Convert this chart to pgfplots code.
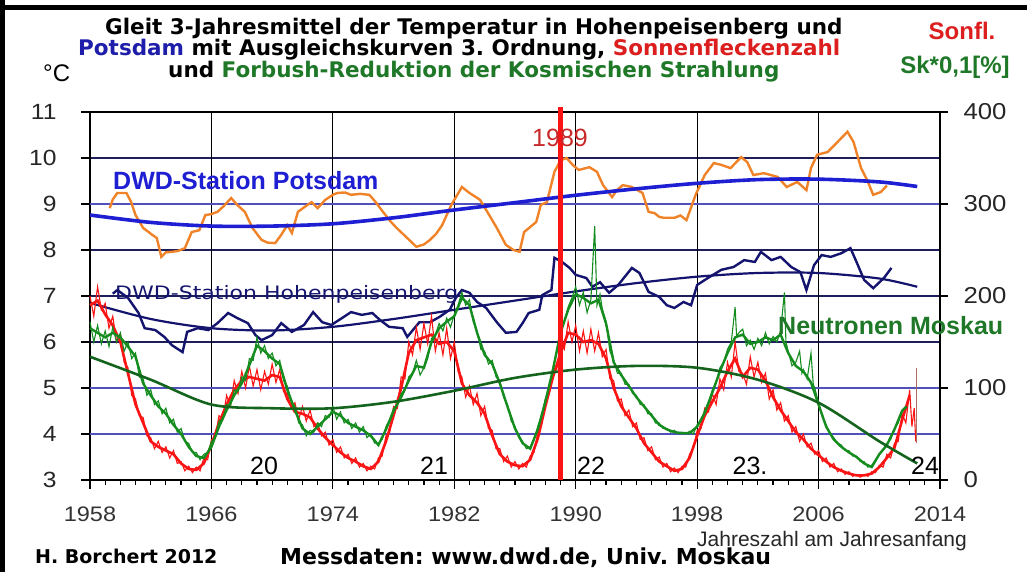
\documentclass[border=0pt]{standalone}
\usepackage{pgfplots}
\pgfplotsset{compat=1.18}
\usepackage{fontspec}
\setmainfont{Liberation Sans}
\newfontfamily\dv{DejaVu Sans}
\newcommand{\sx}[1]{\scalebox{1.12}[1]{#1}}
\definecolor{orangeC}{RGB}{240,130,40}
\definecolor{blueFit}{RGB}{30,30,210}
\definecolor{navyC}{RGB}{20,20,110}
\definecolor{redC}{RGB}{250,20,20}
\definecolor{greenC}{RGB}{20,140,30}
\definecolor{greenFit}{RGB}{20,100,30}
\definecolor{tblue}{RGB}{30,30,170}
\definecolor{tred}{RGB}{220,30,30}
\definecolor{tgreen}{RGB}{30,120,40}
\definecolor{gridnavy}{RGB}{30,30,90}
\definecolor{gridblue}{RGB}{80,80,190}
\frenchspacing
\begin{document}
\begin{tikzpicture}[x=1pt,y=1pt]
\path[use as bounding box] (0,0) rectangle (1027,572);
\fill[black] (0,0) rectangle (5,572);
\fill[black] (0,562) rectangle (1027,567);
% ---------- temperature axis ----------
\begin{axis}[
  at={(90pt,92pt)}, anchor=south west, scale only axis,
  width=850pt, height=368pt,
  xmin=1958, xmax=2014, ymin=3, ymax=11,
  xtick={1958,1966,1974,1982,1990,1998,2006,2014},
  minor x tick num=7,
  ytick={3,4,5,6,7,8,9,10,11},
  xticklabels={\sx{1958},\sx{1966},\sx{1974},\sx{1982},\sx{1990},\sx{1998},\sx{2006},\sx{2014}},
  yticklabels={\sx{3},\sx{4},\sx{5},\sx{6},\sx{7},\sx{8},\sx{9},\sx{10},\sx{11}},
  /pgf/number format/assume math mode=true,
  tick align=outside, tick pos=left,
  major tick length=9pt, minor tick length=5pt,
  every tick/.style={black, line width=1.2pt},
  ymajorgrids,
  major grid style={gridnavy, line width=1.1pt},
  extra x ticks={1966,1974,1982,1990,1998,2006},
  extra x tick labels={},
  extra x tick style={xmajorgrids=true, major grid style={black, line width=1.1pt}},
  extra y ticks={4,5,9},
  extra y tick labels={},
  extra y tick style={ymajorgrids=true, major grid style={gridblue, line width=1.3pt}},
  axis line style={black, line width=1.5pt},
  xticklabel style={font=\fontsize{21}{21}\selectfont, text=black!80, inner sep=0pt, yshift=-18pt},
  yticklabel style={font=\fontsize{22}{22}\selectfont, text=black!85, xshift=-21pt},
]
% Potsdam 3-year running mean
\addplot[orangeC, line width=2.4pt] coordinates {
(1959.3,8.91) (1959.5,9.10) (1959.8,9.24) (1960.4,9.24) (1960.7,9.05) (1961.0,8.76)
(1961.5,8.48) (1962.1,8.33) (1962.4,8.26) (1962.7,7.85) (1963.0,7.95) (1963.4,7.96)
(1963.8,7.98) (1964.25,8.04) (1964.7,8.39) (1965.2,8.43) (1965.6,8.76) (1966.0,8.78)
(1966.4,8.83) (1966.8,8.95) (1967.3,9.13) (1967.7,8.98) (1968.2,8.83) (1968.7,8.48)
(1969.3,8.22) (1969.7,8.16) (1970.2,8.15) (1970.6,8.33) (1971.0,8.54) (1971.3,8.37)
(1971.7,8.83) (1972.2,8.95) (1972.6,9.04) (1973.0,8.91) (1973.5,9.09) (1974.0,9.20)
(1974.3,9.24) (1974.8,9.25) (1975.2,9.20) (1975.8,9.22) (1976.4,9.20) (1976.8,9.05)
(1977.3,8.83) (1977.8,8.62) (1978.2,8.48) (1978.9,8.26) (1979.5,8.07) (1980.0,8.12)
(1980.4,8.22) (1980.8,8.35) (1981.2,8.54) (1981.8,8.98) (1982.2,9.20) (1982.5,9.37)
(1983.0,9.24) (1983.7,9.09) (1984.3,8.76) (1984.8,8.48) (1985.4,8.11) (1985.9,8.00)
(1986.3,7.96) (1986.6,8.39) (1987.0,8.50) (1987.4,8.61) (1987.7,8.98) (1988.1,9.04)
(1988.6,9.70) (1989.0,9.95) (1989.4,10.00) (1989.8,9.85) (1990.2,9.74) (1990.9,9.80)
(1991.4,9.70) (1991.8,9.41) (1992.4,9.15) (1992.7,9.30) (1993.1,9.41) (1993.7,9.37)
(1994.4,9.24) (1994.8,8.83) (1995.2,8.80) (1995.5,8.72) (1995.8,8.70) (1996.5,8.70)
(1996.9,8.75) (1997.3,8.65) (1997.9,9.20) (1998.5,9.63) (1999.1,9.89) (1999.6,9.85)
(2000.2,9.78) (2000.9,10.02) (2001.3,9.91) (2001.7,9.63) (2002.4,9.67) (2003.3,9.59)
(2003.9,9.37) (2004.6,9.48) (2005.2,9.30) (2005.5,9.78) (2005.9,10.07) (2006.6,10.13)
(2007.2,10.33) (2007.9,10.57) (2008.3,10.35) (2008.8,9.78) (2009.2,9.52) (2009.6,9.20)
(2010.1,9.26) (2010.5,9.40)
};
% Potsdam fit
\addplot[blueFit, line width=3.6pt, smooth] coordinates {
(1958,8.76) (1962,8.60) (1966,8.52) (1970,8.52) (1974,8.57) (1978,8.70) (1982,8.87)
(1986,9.03) (1990,9.19) (1994,9.33) (1998,9.45) (2002,9.53) (2006,9.54) (2010,9.48) (2012.5,9.38)
};
% Hohenpeissenberg 3-year running mean
\addplot[navyC, line width=2.4pt] coordinates {
(1959.5,7.05) (1959.8,7.13) (1960.5,6.96) (1961.2,6.63) (1961.6,6.30) (1962.3,6.26)
(1962.9,6.11) (1963.4,5.93) (1964.1,5.78) (1964.4,6.22) (1965.1,6.30) (1965.8,6.26)
(1966.4,6.41) (1967.1,6.63) (1967.7,6.52) (1968.4,6.41) (1968.9,6.15) (1969.3,6.04)
(1970.0,6.15) (1970.6,6.41) (1971.3,6.22) (1972.1,6.37) (1972.7,6.65) (1973.3,6.43)
(1973.9,6.37) (1974.6,6.52) (1975.2,6.65) (1975.9,6.59) (1976.6,6.63) (1977.1,6.48)
(1977.7,6.33) (1978.6,6.30) (1978.9,6.11) (1979.7,6.43) (1980.4,6.43) (1981.0,6.54)
(1981.7,6.70) (1982.1,6.96) (1982.5,7.13) (1983.0,7.07) (1983.5,6.87) (1984.1,6.74)
(1984.8,6.43) (1985.4,6.20) (1986.1,6.22) (1986.5,6.41) (1986.9,6.63) (1987.6,6.70)
(1987.8,7.02) (1988.4,7.13) (1988.6,7.83) (1989.1,7.74) (1989.6,7.61) (1990.0,7.46)
(1990.7,7.39) (1991.1,7.20) (1991.6,7.30) (1992.2,7.07) (1992.8,7.24) (1993.7,7.61)
(1994.2,7.50) (1994.8,7.09) (1995.5,6.98) (1996.0,6.80) (1996.5,6.74) (1997.1,6.87)
(1997.6,6.80) (1998.0,7.24) (1998.7,7.39) (1999.6,7.57) (2000.4,7.63) (2001.1,7.78)
(2001.8,7.74) (2002.2,7.96) (2002.9,7.78) (2003.5,7.85) (2004.2,7.63) (2004.8,7.52)
(2005.2,7.13) (2005.7,7.67) (2006.2,7.89) (2006.8,7.85) (2007.5,7.93) (2008.1,8.04)
(2008.5,7.74) (2009.0,7.35) (2009.6,7.17) (2010.3,7.39) (2010.8,7.61)
};
% Hohenpeissenberg fit
\addplot[navyC, line width=2.2pt, smooth] coordinates {
(1958,6.85) (1962,6.50) (1966,6.30) (1970,6.25) (1974,6.33) (1978,6.50) (1982,6.70)
(1986,6.90) (1990,7.10) (1994,7.28) (1998,7.42) (2002,7.50) (2006,7.50) (2010,7.38) (2012.5,7.20)
};
\end{axis}
% ---------- sunspot / neutron axis ----------
\begin{axis}[
  at={(90pt,92pt)}, anchor=south west, scale only axis,
  width=850pt, height=368pt,
  xmin=1958, xmax=2014, ymin=0, ymax=400,
  axis x line=none, axis y line*=right,
  ytick={0,100,200,300,400},
  yticklabels={\sx{0},\sx{100},\sx{200},\sx{300},\sx{400}},
  /pgf/number format/assume math mode=true,
  tick align=outside, major tick length=8pt,
  every tick/.style={black, line width=1.2pt},
  axis line style={black, line width=1.5pt},
  yticklabel style={font=\fontsize{23}{23}\selectfont, text=black!85, xshift=12pt},
  clip=false,
]
% sunspot number, monthly-like
\addplot[redC, line width=1.1pt] coordinates {
(1958.00,200) (1958.25,178) (1958.50,210) (1958.75,185) (1959.00,192) (1959.25,165)
(1959.50,178) (1959.75,150) (1960.00,158) (1960.25,128) (1960.50,122) (1960.75,92)
(1961.00,88) (1961.25,70) (1961.50,68) (1961.75,48) (1962.00,46) (1962.25,34)
(1962.50,42) (1962.75,30) (1963.00,36) (1963.25,24) (1963.50,32) (1963.75,18)
(1964.00,20) (1964.25,10) (1964.50,15) (1964.75,8) (1965.00,14) (1965.25,10)
(1965.50,24) (1965.75,22) (1966.00,44) (1966.25,46) (1966.50,70) (1966.75,66)
(1967.00,92) (1967.25,80) (1967.50,108) (1967.75,94) (1968.00,118) (1968.25,100)
(1968.50,124) (1968.75,102) (1969.00,120) (1969.25,98) (1969.50,118) (1969.75,104)
(1970.00,126) (1970.25,106) (1970.50,120) (1970.75,96) (1971.00,94) (1971.25,78)
(1971.50,84) (1971.75,66) (1972.00,80) (1972.25,64) (1972.50,76) (1972.75,58)
(1973.00,62) (1973.25,48) (1973.50,52) (1973.75,38) (1974.00,44) (1974.25,30)
(1974.50,36) (1974.75,24) (1975.00,28) (1975.25,18) (1975.50,24) (1975.75,14)
(1976.00,18) (1976.25,10) (1976.50,15) (1976.75,12) (1977.00,24) (1977.25,26)
(1977.50,48) (1977.75,52) (1978.00,80) (1978.25,78) (1978.50,112) (1978.75,110)
(1979.00,150) (1979.25,136) (1979.50,166) (1979.75,142) (1980.00,170) (1980.25,148)
(1980.50,178) (1980.75,140) (1981.00,160) (1981.25,136) (1981.50,165) (1981.75,132)
(1982.00,150) (1982.25,118) (1982.50,112) (1982.75,90) (1983.00,102) (1983.25,82)
(1983.50,94) (1983.75,70) (1984.00,80) (1984.25,56) (1984.50,54) (1984.75,34)
(1985.00,34) (1985.25,20) (1985.50,26) (1985.75,14) (1986.00,20) (1986.25,12)
(1986.50,18) (1986.75,14) (1987.00,26) (1987.25,30) (1987.50,52) (1987.75,60)
(1988.00,88) (1988.25,94) (1988.50,122) (1988.75,120) (1989.00,150) (1989.25,142)
(1989.50,172) (1989.75,150) (1990.00,168) (1990.25,140) (1990.50,162) (1990.75,138)
(1991.00,164) (1991.25,140) (1991.50,160) (1991.75,134) (1992.00,142) (1992.25,110)
(1992.50,108) (1992.75,86) (1993.00,88) (1993.25,70) (1993.50,76) (1993.75,58)
(1994.00,62) (1994.25,44) (1994.50,46) (1994.75,32) (1995.00,36) (1995.25,22)
(1995.50,25) (1995.75,14) (1996.00,18) (1996.25,9) (1996.50,13) (1996.75,8)
(1997.00,15) (1997.25,14) (1997.50,28) (1997.75,34) (1998.00,54) (1998.25,56)
(1998.50,78) (1998.75,74) (1999.00,94) (1999.25,82) (1999.50,110) (1999.75,98)
(2000.00,128) (2000.25,112) (2000.50,150) (2000.75,118) (2001.00,116) (2001.25,104)
(2001.50,134) (2001.75,112) (2002.00,128) (2002.25,106) (2002.50,116) (2002.75,88)
(2003.00,98) (2003.25,76) (2003.50,84) (2003.75,64) (2004.00,70) (2004.25,52)
(2004.50,58) (2004.75,42) (2005.00,50) (2005.25,36) (2005.50,40) (2005.75,28)
(2006.00,32) (2006.25,20) (2006.50,24) (2006.75,14) (2007.00,18) (2007.25,9)
(2007.50,12) (2007.75,6) (2008.00,9) (2008.25,4) (2008.50,6) (2008.75,3)
(2009.00,6) (2009.25,4) (2009.50,9) (2009.75,8) (2010.00,16) (2010.25,14)
(2010.50,28) (2010.75,24) (2011.00,40) (2011.25,42) (2011.50,72) (2011.75,62)
(2012.00,98) (2012.15,58) (2012.30,78) (2012.40,42)
};
% sunspot smoothed
\addplot[redC, line width=2.6pt] coordinates {
(1958.0,190) (1958.5,195) (1959.0,180) (1959.5,168) (1960.0,150) (1960.5,116)
(1961.0,82) (1961.5,62) (1962.0,42) (1962.5,36) (1963.0,32) (1963.5,28) (1964.0,18)
(1964.5,12) (1965.0,11) (1965.5,18) (1966.0,38) (1966.5,62) (1967.0,82) (1967.5,98)
(1968.0,108) (1968.5,112) (1969.0,110) (1969.5,108) (1970.0,114) (1970.5,112)
(1971.0,88) (1971.5,74) (1972.0,72) (1972.5,68) (1973.0,56) (1973.5,46) (1974.0,38)
(1974.5,30) (1975.0,24) (1975.5,20) (1976.0,15) (1976.5,12) (1977.0,20) (1977.5,42)
(1978.0,70) (1978.5,100) (1979.0,138) (1979.5,152) (1980.0,155) (1980.5,158)
(1981.0,148) (1981.5,150) (1982.0,140) (1982.5,105) (1983.0,92) (1983.5,84)
(1984.0,72) (1984.5,48) (1985.0,28) (1985.5,20) (1986.0,16) (1986.5,15) (1987.0,22)
(1987.5,45) (1988.0,80) (1988.5,112) (1989.0,138) (1989.5,160) (1990.0,158)
(1990.5,150) (1991.0,152) (1991.5,148) (1992.0,132) (1992.5,100) (1993.0,80)
(1993.5,68) (1994.0,56) (1994.5,40) (1995.0,30) (1995.5,20) (1996.0,15) (1996.5,10)
(1997.0,12) (1997.5,24) (1998.0,48) (1998.5,70) (1999.0,85) (1999.5,100) (2000.0,118)
(2000.5,132) (2001.0,112) (2001.5,122) (2002.0,120) (2002.5,108) (2003.0,90)
(2003.5,76) (2004.0,64) (2004.5,52) (2005.0,44) (2005.5,34) (2006.0,27) (2006.5,20)
(2007.0,14) (2007.5,10) (2008.0,7) (2008.5,5) (2009.0,5) (2009.5,7) (2010.0,14)
(2010.5,24) (2011.0,35) (2011.5,65) (2012.0,92)
};
\addplot[color={rgb,255:red,170;green,110;blue,100}, line width=1.4pt] coordinates {(2012.45,40) (2012.45,122)};
% neutron Forbush reduction
\addplot[greenC, line width=1.1pt] coordinates {
(1958.00,172) (1958.25,150) (1958.50,168) (1958.75,148) (1959.00,162) (1959.25,145)
(1959.50,166) (1959.75,150) (1960.00,160) (1960.25,140) (1960.50,150) (1960.75,132)
(1961.00,138) (1961.25,112) (1961.50,110) (1961.75,92) (1962.00,98) (1962.25,82)
(1962.50,86) (1962.75,72) (1963.00,78) (1963.25,62) (1963.50,66) (1963.75,52)
(1964.00,56) (1964.25,42) (1964.50,40) (1964.75,30) (1965.00,30) (1965.25,22)
(1965.50,28) (1965.75,30) (1966.00,42) (1966.25,46) (1966.50,64) (1966.75,66)
(1967.00,82) (1967.25,80) (1967.50,98) (1967.75,96) (1968.00,112) (1968.25,108)
(1968.50,132) (1968.75,130) (1969.00,155) (1969.25,138) (1969.50,146) (1969.75,132)
(1970.00,138) (1970.25,124) (1970.50,130) (1970.75,108) (1971.00,102) (1971.25,86)
(1971.50,80) (1971.75,62) (1972.00,60) (1972.25,48) (1972.50,54) (1972.75,52)
(1973.00,62) (1973.25,58) (1973.50,70) (1973.75,68) (1974.00,80) (1974.25,66)
(1974.50,74) (1974.75,62) (1975.00,66) (1975.25,56) (1975.50,62) (1975.75,52)
(1976.00,58) (1976.25,46) (1976.50,50) (1976.75,40) (1977.00,40) (1977.25,44)
(1977.50,58) (1977.75,66) (1978.00,78) (1978.25,82) (1978.50,94) (1978.75,98)
(1979.00,112) (1979.25,116) (1979.50,130) (1979.75,114) (1980.00,122) (1980.25,132)
(1980.50,154) (1980.75,158) (1981.00,170) (1981.25,162) (1981.50,176) (1981.75,166)
(1982.00,180) (1982.25,190) (1982.50,204) (1982.75,190) (1983.00,196) (1983.25,172)
(1983.50,162) (1983.75,142) (1984.00,140) (1984.25,126) (1984.50,130) (1984.75,112)
(1985.00,108) (1985.25,90) (1985.50,82) (1985.75,64) (1986.00,58) (1986.25,46)
(1986.50,42) (1986.75,34) (1987.00,36) (1987.25,44) (1987.50,58) (1987.75,70)
(1988.00,88) (1988.25,102) (1988.50,122) (1988.75,140) (1989.00,162) (1989.25,172)
(1989.50,188) (1989.75,198) (1990.00,210) (1990.25,190) (1990.50,204) (1990.75,182)
(1991.00,196) (1991.25,276) (1991.40,190) (1991.60,202) (1991.75,186) (1992.00,172)
(1992.25,140) (1992.50,130) (1992.75,116) (1993.00,116) (1993.25,104) (1993.50,104)
(1993.75,94) (1994.00,92) (1994.25,82) (1994.50,82) (1994.75,72) (1995.00,72)
(1995.25,62) (1995.50,62) (1995.75,56) (1996.00,56) (1996.25,52) (1996.50,54)
(1996.75,50) (1997.00,52) (1997.25,50) (1997.50,53) (1997.75,50) (1998.00,60)
(1998.25,64) (1998.50,76) (1998.75,84) (1999.00,98) (1999.25,106) (1999.50,122)
(1999.75,128) (2000.00,142) (2000.25,150) (2000.50,188) (2000.60,156) (2000.75,160)
(2001.00,164) (2001.25,146) (2001.50,152) (2001.75,142) (2002.00,154) (2002.25,146)
(2002.50,160) (2002.75,148) (2003.00,156) (2003.25,150) (2003.50,162) (2003.75,204)
(2003.85,150) (2004.00,140) (2004.25,124) (2004.50,128) (2004.75,140) (2004.90,116)
(2005.00,120) (2005.25,110) (2005.50,138) (2005.65,104) (2005.75,100) (2006.00,84)
(2006.25,68) (2006.50,60) (2006.75,50) (2007.00,46) (2007.25,40) (2007.50,38)
(2007.75,32) (2008.00,32) (2008.25,26) (2008.50,26) (2008.75,20) (2009.00,20)
(2009.25,14) (2009.50,16) (2009.75,22) (2010.00,28) (2010.25,32) (2010.50,40)
(2010.75,44) (2011.00,56) (2011.25,62) (2011.50,76) (2011.75,80)
};
% neutron smoothed
\addplot[greenC, line width=2.4pt] coordinates {
(1958.0,165) (1958.5,160) (1959.0,155) (1959.5,160) (1960.0,155) (1960.5,145)
(1961.0,134) (1961.5,105) (1962.0,92) (1962.5,80) (1963.0,72) (1963.5,60) (1964.0,50)
(1964.5,36) (1965.0,26) (1965.5,24) (1966.0,36) (1966.5,58) (1967.0,76) (1967.5,92)
(1968.0,105) (1968.5,125) (1969.0,146) (1969.5,140) (1970.0,132) (1970.5,126)
(1971.0,98) (1971.5,76) (1972.0,56) (1972.5,50) (1973.0,58) (1973.5,66) (1974.0,74)
(1974.5,70) (1975.0,62) (1975.5,58) (1976.0,54) (1976.5,48) (1977.0,38) (1977.5,55)
(1978.0,75) (1978.5,90) (1979.0,108) (1979.5,124) (1980.0,122) (1980.5,150)
(1981.0,165) (1981.5,172) (1982.0,178) (1982.5,198) (1983.0,190) (1983.5,160)
(1984.0,136) (1984.5,126) (1985.0,105) (1985.5,80) (1986.0,56) (1986.5,40) (1987.0,34)
(1987.5,55) (1988.0,85) (1988.5,120) (1989.0,160) (1989.5,185) (1990.0,202)
(1990.5,198) (1991.0,192) (1991.5,196) (1992.0,170) (1992.5,128) (1993.0,114)
(1993.5,102) (1994.0,90) (1994.5,80) (1995.0,70) (1995.5,60) (1996.0,55) (1996.5,52)
(1997.0,51) (1997.5,51) (1998.0,58) (1998.5,73) (1999.0,95) (1999.5,118) (2000.0,138)
(2000.5,155) (2001.0,158) (2001.5,148) (2002.0,150) (2002.5,155) (2003.0,152)
(2003.5,158) (2004.0,138) (2004.5,124) (2005.0,118) (2005.5,106) (2006.0,82)
(2006.5,58) (2007.0,44) (2007.5,36) (2008.0,30) (2008.5,25) (2009.0,18) (2009.5,14)
(2010.0,28) (2010.5,38) (2011.0,55) (2011.5,75) (2011.8,80)
};
% neutron fit
\addplot[greenFit, line width=2.6pt, smooth] coordinates {
(1958,134) (1962,109) (1966,82) (1970,78) (1974,78) (1978,85) (1982,97) (1986,111)
(1990,120) (1994,124) (1998,122) (2002,109) (2006,84) (2010,42) (2012.5,18)
};
% 1989 marker line
\addplot[redC, line width=5pt] coordinates {(1989,0) (1989,405)};
\end{axis}
% ---------- texts ----------
\node[anchor=base west, inner sep=0] at (105,537) {\dv\bfseries\fontsize{21.5}{24}\selectfont Gleit 3-Jahresmittel der Temperatur in Hohenpeisenberg und};
\node[anchor=base west, inner sep=0] at (78,516) {\dv\bfseries\fontsize{21.5}{24}\selectfont \textcolor{tblue}{Potsdam} mit Ausgleichskurven 3. Ordnung, \textcolor{tred}{Sonnenfleckenzahl}};
\node[anchor=base west, inner sep=0] at (168,494) {\dv\bfseries\fontsize{21.5}{24}\selectfont und \textcolor{tgreen}{Forbush-Reduktion der Kosmischen Strahlung}};
\node[anchor=base west, inner sep=0] at (43,490) {\fontsize{24}{24}\selectfont °C};
\node[anchor=base, inner sep=0, text=tred] at (962,532) {\fontsize{24}{24}\selectfont\bfseries Sonfl.};
\node[anchor=base, inner sep=0, text=tgreen] at (955,498) {\fontsize{24}{24}\selectfont\bfseries Sk*0,1[\%]};
\node[anchor=base west, inner sep=0, text=blueFit] at (113,382) {\fontsize{25}{25}\selectfont\bfseries DWD-Station Potsdam};
\node[anchor=base west, inner sep=0, text=navyC] at (115,272) {\scalebox{1.19}[1]{\dv\fontsize{18.5}{20}\selectfont DWD-Station Hohenpeisenberg}};
\node[anchor=base west, inner sep=0, text={rgb,255:red,200;green,40;blue,40}] at (532,425) {\fontsize{25}{25}\selectfont 1989};
\node[anchor=base west, inner sep=0, text=tgreen] at (778,237) {\fontsize{25}{25}\selectfont\bfseries Neutronen Moskau};
\node[anchor=base, inner sep=0] at (264,97) {\fontsize{25}{25}\selectfont 20};
\node[anchor=base, inner sep=0] at (434,97) {\fontsize{25}{25}\selectfont 21};
\node[anchor=base, inner sep=0] at (591,97) {\fontsize{25}{25}\selectfont 22};
\node[anchor=base, inner sep=0] at (750,97) {\fontsize{25}{25}\selectfont 23.};
\node[anchor=base, inner sep=0] at (925,97) {\fontsize{25}{25}\selectfont 24};
\node[anchor=base west, inner sep=0, text depth=0pt, text=black!85] at (697,25) {\fontsize{21}{21}\selectfont Jahreszahl am Jahresanfang};
\node[anchor=base west, inner sep=0] at (35,8) {\dv\bfseries\fontsize{19}{19}\selectfont H. Borchert 2012};
\node[anchor=base west, inner sep=0] at (280,7) {\dv\bfseries\fontsize{22}{22}\selectfont Messdaten: www.dwd.de, Univ. Moskau};
\end{tikzpicture}
\end{document}
